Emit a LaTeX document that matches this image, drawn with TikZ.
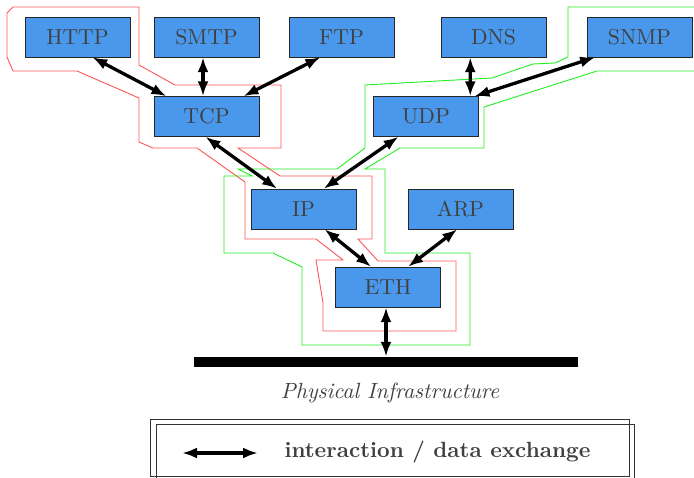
\documentclass[tikz,border=0pt]{standalone}
\usepackage{fontspec}
\usetikzlibrary{arrows.meta,calc}
% 10pt design of Latin Modern, set large
\newfontfamily\labelfont{lmroman10-regular.otf}[BoldFont=lmroman10-bold.otf,ItalicFont=lmroman10-italic.otf]
\definecolor{boxblue}{HTML}{4A98EC}
\definecolor{txtgray}{HTML}{404040}
\definecolor{tcpred}{HTML}{FF5555}
\definecolor{udpgreen}{HTML}{22EE22}
% points along the lower and upper edge of a box
\newcommand{\lowedge}[2]{($(#1.south west)!#2!(#1.south east)$)}
\newcommand{\upedge}[2]{($(#1.north west)!#2!(#1.north east)$)}

\begin{document}
\begin{tikzpicture}[x=1pt,y=-1pt,
  proto/.style={draw=black!85, fill=boxblue, minimum width=105pt, minimum height=40pt,
    inner sep=0pt, text=txtgray, font=\labelfont\fontsize{21.7}{26}\selectfont},
  link/.style={line width=3.3pt, {Latex[length=15pt,width=11pt]}-{Latex[length=15pt,width=11pt]}},
  tcppath/.style={draw=tcpred, line width=0.9pt},
  udppath/.style={draw=udpgreen, line width=0.9pt},
  frame/.style={draw=black!80, line width=0.7pt},
  caption/.style={text=txtgray, font=\labelfont\fontsize{22}{26}\selectfont}]

\useasboundingbox (0,0) rectangle (694,478);

% protocol stack
\node[proto] (HTTP) at (77.5,37)  {HTTP};
\node[proto] (SMTP) at (206.5,37) {SMTP};
\node[proto] (FTP)  at (341.5,37) {FTP};
\node[proto] (DNS)  at (493.5,37) {DNS};
\node[proto] (SNMP) at (639.5,37) {SNMP};
\node[proto] (TCP)  at (206.5,116.5) {TCP};
\node[proto] (UDP)  at (426,116.5) {UDP};
\node[proto] (IP)   at (303.5,209) {IP};
\node[proto] (ARP)  at (460.5,209) {ARP};
\node[proto] (ETH)  at (388,287) {ETH};

% physical medium
\node[fill=black, minimum width=384pt, minimum height=10pt, inner sep=0pt] (bus) at (386,362) {};
\node[caption, font=\labelfont\itshape\fontsize{22}{26}\selectfont] (phys) at (390,393) {Physical Infrastructure};

% TCP path outline
\draw[tcppath] (13,7) -- (139,7) -- (139,65) -- (175,85) -- (281,85) -- (281,148) -- (238,148)
  -- (280,176) -- (372,176) -- (372,239) -- (358,239) -- (378,261) -- (456,261) -- (456,331)
  -- (323,331) -- (323,303) -- (316,260) -- (343,260) -- (316,239) -- (245,239) -- (245,182)
  -- (197,148) -- (153,148) -- (139,142) -- (139,98) -- (77,71) -- (13,71) -- (7,57) -- (7,13) -- cycle;

% UDP path outline
\draw[udppath] (694,71) -- (597,71) -- (484,107) -- (484,148) -- (400,148) -- (365,169)
  -- (385,169) -- (385,253) -- (470,253) -- (470,345) -- (302,345) -- (302,267) -- (273,253)
  -- (224,253) -- (224,176) -- (252,176) -- (238,169) -- (337,169) -- (365,148) -- (365,85)
  -- (492,78) -- (533,64) -- (555,63) -- (568,57) -- (568,7) -- (694,7);

% interactions
\draw[link] \lowedge{HTTP}{0.64} -- \upedge{TCP}{0.12};
\draw[link] \lowedge{SMTP}{0.467} -- \upedge{TCP}{0.467};
\draw[link] \lowedge{FTP}{0.30} -- \upedge{TCP}{0.85};
\draw[link] \lowedge{DNS}{0.28} -- \upedge{UDP}{0.92};
\draw[link] \lowedge{SNMP}{0.08} -- \upedge{UDP}{0.96};
\draw[link] \lowedge{TCP}{0.49} -- \upedge{IP}{0.25};
\draw[link] \lowedge{UDP}{0.24} -- \upedge{IP}{0.69};
\draw[link] \lowedge{IP}{0.70} -- \upedge{ETH}{0.34};
\draw[link] \lowedge{ARP}{0.47} -- \upedge{ETH}{0.69};
\draw[link] (ETH.south -| bus.north) -- (bus.north);

% legend
\draw[frame] (150,419) rectangle (629,476);
\draw[frame] (156,424) rectangle (634,482);
\coordinate (legA) at (182,453);
\coordinate (legB) at (258,453);
\draw[link] (legA) -- (legB);
\node[caption, font=\labelfont\bfseries\fontsize{22}{26}\selectfont, anchor=west] (legtext) at (281,452) {interaction / data exchange};
\end{tikzpicture}
\end{document}
